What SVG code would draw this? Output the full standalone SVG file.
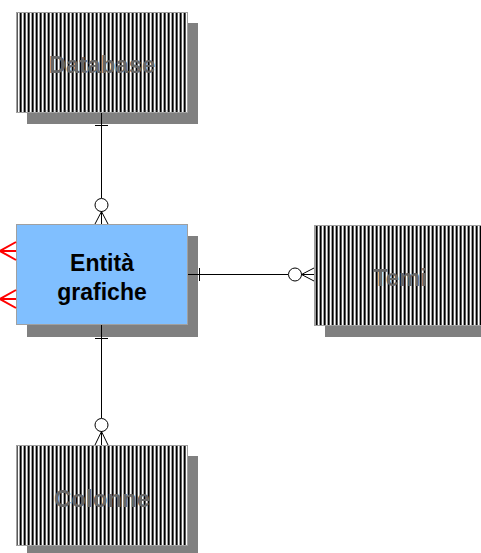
<svg xmlns="http://www.w3.org/2000/svg" width="481" height="553" viewBox="0 0 481 553">
<defs>
<pattern id="stripes" x="0" y="0" width="4" height="4" patternUnits="userSpaceOnUse">
<rect x="0" y="0" width="4" height="4" fill="#ffffff"/>
<rect x="0" y="0" width="1" height="4" fill="#000000"/>
<rect x="1" y="0" width="1" height="4" fill="#5a5a5a"/>
<rect x="3" y="0" width="1" height="4" fill="#a0a0a0"/>
</pattern>
<style>
.shadow{fill:#808080;}
.ent{fill:url(#stripes);stroke:#a0a0a0;stroke-width:1;}
.main{fill:#80bfff;stroke:#a0a0a0;stroke-width:1;}
.lbl{font-family:"Liberation Sans",Arial,sans-serif;font-weight:bold;font-size:24px;text-anchor:middle;fill:#666666;}
.mlbl{font-family:"Liberation Sans",Arial,sans-serif;font-weight:bold;font-size:23px;text-anchor:middle;fill:#000000;}
.ln{stroke:#000000;stroke-width:1;fill:none;}
.cf{stroke:#000000;stroke-width:1;fill:#ffffff;}
.red{stroke:#ff0000;stroke-width:2;fill:none;}
</style>
</defs>

<g id="database">
<rect class="shadow" x="27" y="23" width="171" height="101"/>
<rect class="ent" x="16.5" y="12.5" width="171" height="100"/>
<text class="lbl" x="102" y="73">Database</text>
</g>

<g id="temi">
<rect class="shadow" x="325" y="236" width="160" height="101"/>
<rect class="ent" x="314.5" y="225.5" width="171" height="100"/>
<text class="lbl" x="400" y="286">Temi</text>
</g>

<g id="colonne">
<rect class="shadow" x="27" y="456" width="171" height="101"/>
<rect class="ent" x="16.5" y="445.5" width="171" height="100"/>
<text class="lbl" x="102" y="507">Colonne</text>
</g>

<g id="entita-grafiche">
<rect class="shadow" x="27" y="236" width="171" height="101"/>
<rect class="main" x="16.5" y="224.5" width="171" height="100"/>
<text class="mlbl" x="102" y="271">Entità</text>
<text class="mlbl" x="102" y="300">grafiche</text>
</g>

<g id="connectors">
<line class="ln" x1="101.5" y1="113" x2="101.5" y2="198"/>
<line class="ln" x1="95" y1="125.5" x2="108" y2="125.5"/>
<circle class="cf" cx="101.5" cy="205" r="6.5"/>
<path class="ln" d="M101.5 211.5 L95 224 M101.5 211.5 L101.5 224 M101.5 211.5 L108 224"/>
<line class="ln" x1="101.5" y1="325" x2="101.5" y2="418"/>
<line class="ln" x1="95" y1="338.5" x2="108" y2="338.5"/>
<circle class="cf" cx="101.5" cy="425" r="6.5"/>
<path class="ln" d="M101.5 431.5 L95 445 M101.5 431.5 L101.5 445 M101.5 431.5 L108 445"/>
<line class="ln" x1="188" y1="274.5" x2="288" y2="274.5"/>
<line class="ln" x1="199.5" y1="268" x2="199.5" y2="281"/>
<circle class="cf" cx="295" cy="274.5" r="6.5"/>
<path class="ln" d="M301.5 274.5 L314 268 M301.5 274.5 L314 274.5 M301.5 274.5 L314 281"/>
<path class="red" d="M0 251 L16 242 M0 251 L16 251 M0 251 L16 260"/>
<path class="red" d="M0 299 L16 290 M0 299 L16 299 M0 299 L16 308"/>
</g>
</svg>
